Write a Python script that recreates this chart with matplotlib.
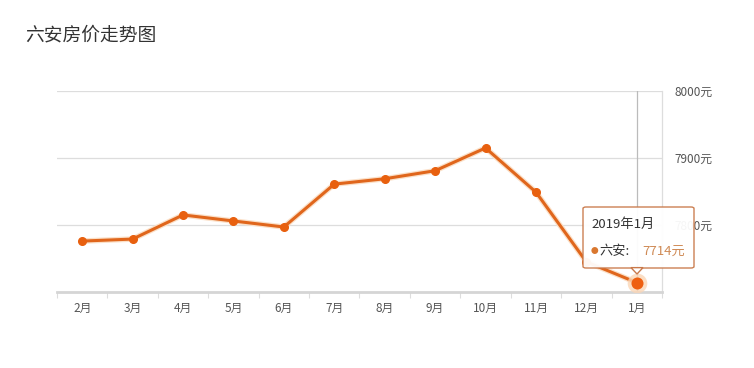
import matplotlib.pyplot as plt
from matplotlib.patches import FancyBboxPatch, Polygon

plt.rcParams['font.family'] = ['Noto Sans CJK SC', 'DejaVu Sans']

# données
months = ['2月', '3月', '4月', '5月', '6月', '7月', '8月', '9月', '10月', '11月', '12月', '1月']
prices = [7776, 7779, 7815, 7806, 7797, 7861, 7869, 7881, 7915, 7849, 7745, 7714]
y_ticks = [7800, 7900, 8000]
y_labels = ['7800元', '7900元', '8000元']

orange = '#e0661c'

fig = plt.figure(figsize=(7.54, 3.68), dpi=100)
ax = fig.add_axes([57 / 754, 1 - 292 / 368, 605 / 754, 201 / 368])

x = list(range(len(months)))
ax.plot(x, prices, color='#fbe0c8', lw=4, zorder=2, solid_capstyle='round')
ax.plot(x, prices, color=orange, lw=2.2, marker='o', ms=5.5, mfc='#e8600f', mec='#e8600f', zorder=3)

# dernier point mis en évidence
ax.scatter([x[-1]], [prices[-1]], s=200, color='#fbd6b6', alpha=0.8, zorder=4, lw=0)
ax.scatter([x[-1]], [prices[-1]], s=75, color='#ee5f10', zorder=5, lw=0)
ax.axvline(x[-1], color='#bbbbbb', lw=0.9, zorder=1)

ax.set_xlim(-0.5, len(months) - 0.5)
ax.set_ylim(7700, 8000)
ax.set_xticks(x)
ax.set_xticklabels(months)
ax.set_xticks([i - 0.5 for i in range(len(months) + 1)], minor=True)
ax.tick_params(axis='x', which='major', length=0, labelsize=8.5, colors='#555555', pad=7)
ax.tick_params(axis='x', which='minor', length=4, color='#dddddd', width=0.8)

ax.yaxis.tick_right()
ax.set_yticks(y_ticks)
ax.set_yticklabels(y_labels)
ax.tick_params(axis='y', length=0, labelsize=8.5, colors='#555555', pad=9)
ax.grid(axis='y', color='#dddddd', lw=0.9)
ax.set_axisbelow(True)

for side in ['top', 'left']:
    ax.spines[side].set_visible(False)
ax.spines['right'].set_color('#dddddd')
ax.spines['right'].set_linewidth(0.9)
ax.spines['bottom'].set_color('#d5d5d5')
ax.spines['bottom'].set_linewidth(2)

fig.text(25 / 754, 1 - 35 / 368, '六安房价走势图', fontsize=13.5, color='#333333', va='center')

# infobulle
bx0, by0, bw, bh = 583 / 754, 1 - 268 / 368, 111 / 754, 61 / 368
box = FancyBboxPatch((bx0, by0), bw, bh, boxstyle='round,pad=0,rounding_size=0.004',
                     transform=fig.transFigure, fc='white', ec='#c9794a', lw=1, alpha=0.95, zorder=10)
fig.patches.append(box)
tri = Polygon([(631 / 754, by0 + 0.001), (643 / 754, by0 + 0.001), (637 / 754, 1 - 274 / 368)],
              closed=True, transform=fig.transFigure, fc='white', ec='#c9794a', lw=1, zorder=11)
fig.patches.append(tri)
fig.text(591 / 754, 1 - 224 / 368, '2019年1月', fontsize=9.5, color='#333333', va='center', zorder=12)
fig.text(591 / 754, 1 - 251 / 368, '●', fontsize=5.5, color='#d9772f', va='center', zorder=12)
fig.text(599 / 754, 1 - 251 / 368, '六安:', fontsize=9.5, color='#333333', va='center', zorder=12)
fig.text(642 / 754, 1 - 251 / 368, '7714元', fontsize=9.5, color='#cf8a55', va='center', zorder=12)

fig.savefig('out.png', dpi=100)
